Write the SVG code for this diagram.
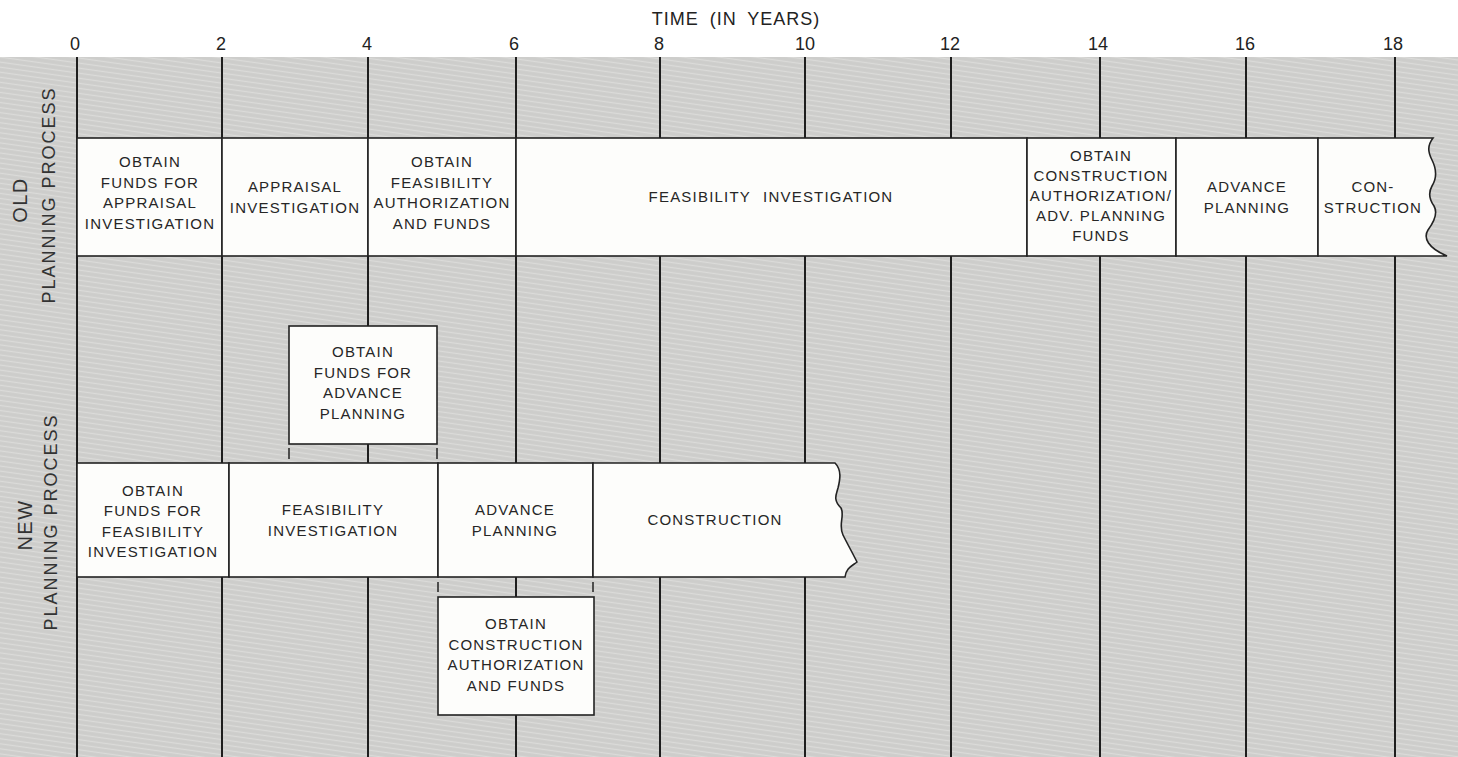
<svg xmlns="http://www.w3.org/2000/svg" width="1458" height="757" viewBox="0 0 1458 757">
<defs>
<pattern id="hatch" width="6" height="5" patternUnits="userSpaceOnUse" patternTransform="rotate(8)">
<rect width="6" height="5" fill="#cdcdcb"/>
<line x1="0" y1="1.5" x2="6" y2="1.5" stroke="#dbdbd9" stroke-width="1.4"/>
</pattern>
<style>
.grid{stroke:#1e1e1e;stroke-width:2}
.box{fill:#fdfdfb;stroke:#222;stroke-width:1.6}
.tick{stroke:#222;stroke-width:1.5}
.t{font-family:"Liberation Sans",Arial,sans-serif;font-size:15px;letter-spacing:1.2px;fill:#262626;text-anchor:middle}
.ax{font-family:"Liberation Sans",Arial,sans-serif;font-size:18px;fill:#222;text-anchor:middle}
.lbl{font-family:"Liberation Sans",Arial,sans-serif;fill:#333;text-anchor:middle}
</style>
</defs>
<rect x="0" y="0" width="1458" height="757" fill="#ffffff"/>
<rect x="0" y="57" width="1458" height="700" fill="url(#hatch)"/>

<g id="axis">
<text class="ax" x="736" y="25" font-size="17" letter-spacing="1" word-spacing="5">TIME (IN YEARS)</text>
<text class="ax" x="75" y="50">0</text>
<text class="ax" x="221" y="50">2</text>
<text class="ax" x="367" y="50">4</text>
<text class="ax" x="514" y="50">6</text>
<text class="ax" x="659" y="50">8</text>
<text class="ax" x="805" y="50">10</text>
<text class="ax" x="950" y="50">12</text>
<text class="ax" x="1098" y="50">14</text>
<text class="ax" x="1245" y="50">16</text>
<text class="ax" x="1393" y="50">18</text>
</g>

<g id="grid">
<line class="grid" x1="77" y1="57" x2="77" y2="757"/>
<line class="grid" x1="222" y1="57" x2="222" y2="757"/>
<line class="grid" x1="368" y1="57" x2="368" y2="757"/>
<line class="grid" x1="516" y1="57" x2="516" y2="757"/>
<line class="grid" x1="660" y1="57" x2="660" y2="757"/>
<line class="grid" x1="805" y1="57" x2="805" y2="757"/>
<line class="grid" x1="951" y1="57" x2="951" y2="757"/>
<line class="grid" x1="1100" y1="57" x2="1100" y2="757"/>
<line class="grid" x1="1246" y1="57" x2="1246" y2="757"/>
<line class="grid" x1="1395" y1="57" x2="1395" y2="757"/>
</g>

<g id="row-labels">
<text class="lbl" font-size="20" letter-spacing="1.5" transform="translate(27,200) rotate(-90)">OLD</text>
<text class="lbl" font-size="18" letter-spacing="2" transform="translate(55,195) rotate(-90)">PLANNING PROCESS</text>
<text class="lbl" font-size="20" letter-spacing="1.5" transform="translate(32,525) rotate(-90)">NEW</text>
<text class="lbl" font-size="18" letter-spacing="2" transform="translate(57,522) rotate(-90)">PLANNING PROCESS</text>
</g>

<g id="old-1"><rect class="box" x="77" y="138" width="145" height="118"/>
<text class="t" x="150" y="167">OBTAIN</text><text class="t" x="150" y="187.5">FUNDS FOR</text><text class="t" x="150" y="208">APPRAISAL</text><text class="t" x="150" y="228.5">INVESTIGATION</text></g>
<g id="old-2"><rect class="box" x="222" y="138" width="146" height="118"/>
<text class="t" x="295" y="192">APPRAISAL</text><text class="t" x="295" y="213">INVESTIGATION</text></g>
<g id="old-3"><rect class="box" x="368" y="138" width="148" height="118"/>
<text class="t" x="442" y="167">OBTAIN</text><text class="t" x="442" y="187.5">FEASIBILITY</text><text class="t" x="442" y="208" letter-spacing="0.6">AUTHORIZATION</text><text class="t" x="442" y="228.5">AND FUNDS</text></g>
<g id="old-4"><rect class="box" x="516" y="138" width="511" height="118"/>
<text class="t" x="771" y="202" word-spacing="7">FEASIBILITY INVESTIGATION</text></g>
<g id="old-5"><rect class="box" x="1027" y="138" width="149" height="118"/>
<text class="t" x="1101" y="161">OBTAIN</text><text class="t" x="1101" y="181" letter-spacing="0.8">CONSTRUCTION</text><text class="t" x="1101" y="201" letter-spacing="0.4">AUTHORIZATION/</text><text class="t" x="1101" y="221" letter-spacing="0.8">ADV. PLANNING</text><text class="t" x="1101" y="241">FUNDS</text></g>
<g id="old-6"><rect class="box" x="1176" y="138" width="142" height="118"/>
<text class="t" x="1247" y="192">ADVANCE</text><text class="t" x="1247" y="213">PLANNING</text></g>
<g id="old-7"><path class="box" d="M1318,138 H1433 C1427,146 1428,152 1432,160 C1437,170 1437,178 1432,186 C1428,193 1429,199 1434,206 C1438,213 1434,222 1428,230 C1423,238 1428,248 1447,256 H1318 Z"/>
<text class="t" x="1373" y="192">CON-</text><text class="t" x="1373" y="213" letter-spacing="0.8">STRUCTION</text></g>

<g id="new-float-top"><rect class="box" x="289" y="326" width="148" height="118"/>
<text class="t" x="363" y="357">OBTAIN</text><text class="t" x="363" y="378">FUNDS FOR</text><text class="t" x="363" y="398">ADVANCE</text><text class="t" x="363" y="419">PLANNING</text></g>

<g id="new-1"><rect class="box" x="77" y="463" width="152" height="114"/>
<text class="t" x="153" y="496">OBTAIN</text><text class="t" x="153" y="516">FUNDS FOR</text><text class="t" x="153" y="536.5">FEASIBILITY</text><text class="t" x="153" y="557">INVESTIGATION</text></g>
<g id="new-2"><rect class="box" x="229" y="463" width="209" height="114"/>
<text class="t" x="333" y="515">FEASIBILITY</text><text class="t" x="333" y="536">INVESTIGATION</text></g>
<g id="new-3"><rect class="box" x="438" y="463" width="155" height="114"/>
<text class="t" x="515" y="515">ADVANCE</text><text class="t" x="515" y="536">PLANNING</text></g>
<g id="new-4"><path class="box" d="M593,463 H835 C842,470 840,480 838,488 C836,495 833,500 841,508 C845,515 838,525 843,535 C848,545 852,552 857,562 C852,566 846,568 845,577 H593 Z"/>
<text class="t" x="715" y="525">CONSTRUCTION</text></g>

<g id="new-float-bottom"><rect class="box" x="438" y="597" width="156" height="118"/>
<text class="t" x="516" y="629">OBTAIN</text><text class="t" x="516" y="650">CONSTRUCTION</text><text class="t" x="516" y="670" letter-spacing="0.8">AUTHORIZATION</text><text class="t" x="516" y="691">AND FUNDS</text></g>

<g id="connectors">
<line class="tick" x1="289" y1="448" x2="289" y2="459"/>
<line class="tick" x1="437" y1="448" x2="437" y2="459"/>
<line class="tick" x1="438" y1="582" x2="438" y2="592"/>
<line class="tick" x1="593" y1="582" x2="593" y2="592"/>
</g>
</svg>
